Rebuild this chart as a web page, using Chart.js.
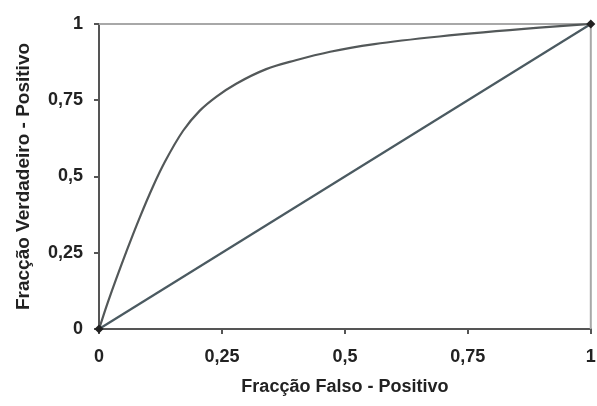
<!DOCTYPE html>
<html>
<head>
<meta charset="utf-8">
<script src="https://cdn.jsdelivr.net/npm/chart.js@4"></script>
<style>
html,body{margin:0;padding:0;background:#fff;}
#wrap{width:597px;height:406px;}
</style>
</head>
<body>
<div id="wrap"><canvas id="c" width="597" height="406"></canvas></div>
<script>
// ROC curve (Fracção Falso-Positivo vs Fracção Verdadeiro-Positivo)
const rocFpr = [0, 0.019, 0.056, 0.083, 0.110, 0.134, 0.171, 0.205, 0.239, 0.279, 0.340, 0.400, 0.470, 0.560, 0.692, 0.895, 1];
const rocTpr = [0, 0.092, 0.255, 0.366, 0.468, 0.548, 0.650, 0.716, 0.762, 0.804, 0.852, 0.881, 0.909, 0.934, 0.959, 0.988, 1];
const diagX = [0, 1];
const diagY = [0, 1];
const tickValues = [0, 0.25, 0.5, 0.75, 1];
const tickLabels = ['0', '0,25', '0,5', '0,75', '1'];
const xTitle = 'Fracção Falso - Positivo';
const yTitle = 'Fracção Verdadeiro - Positivo';

const fontFam = '"Liberation Sans", Arial, sans-serif';
const labelOf = v => { const i = tickValues.findIndex(t => Math.abs(t - v) < 1e-9); return i >= 0 ? tickLabels[i] : ''; };

const frame = {
  id: 'frame',
  beforeDatasetsDraw(chart) {
    const a = chart.chartArea, ctx = chart.ctx;
    ctx.save();
    ctx.strokeStyle = '#a8a8a8';
    ctx.lineWidth = 2;
    ctx.beginPath();
    ctx.moveTo(a.left, a.top);
    ctx.lineTo(a.right, a.top);
    ctx.lineTo(a.right, a.bottom);
    ctx.stroke();
    ctx.restore();
  }
};

const endRadius = ctx => (ctx.dataIndex === 0 || ctx.dataIndex === ctx.dataset.data.length - 1) ? 3 : 0;

new Chart(document.getElementById('c'), {
  type: 'scatter',
  data: {
    datasets: [
      {
        data: rocFpr.map((x, i) => ({x, y: rocTpr[i]})),
        showLine: true,
        borderColor: '#535859',
        borderWidth: 2.2,
        cubicInterpolationMode: 'monotone',
        pointRadius: endRadius,
        pointStyle: 'rectRot',
        pointBackgroundColor: '#222',
        pointBorderColor: '#222',
        clip: false
      },
      {
        data: diagX.map((x, i) => ({x, y: diagY[i]})),
        showLine: true,
        borderColor: '#4b5a61',
        borderWidth: 2.2,
        pointRadius: 0,
        clip: false
      }
    ]
  },
  options: {
    responsive: false,
    animation: false,
    devicePixelRatio: 1,
    layout: {padding: {top: 24, right: 5, left: 0, bottom: 0}},
    plugins: {legend: {display: false}, tooltip: {enabled: false}},
    scales: {
      x: {
        type: 'linear', min: 0, max: 1,
        afterBuildTicks: s => { s.ticks = tickValues.map(v => ({value: v})); },
        afterFit: s => { s.height = 77; s.paddingRight = 0; s.paddingLeft = 0; },
        ticks: {callback: v => labelOf(v), color: '#222', padding: 12, maxRotation: 0,
                font: {family: fontFam, size: 18, weight: 'bold'}},
        grid: {drawOnChartArea: false, drawTicks: true, tickLength: 5, color: '#555', lineWidth: 2},
        border: {color: '#555', width: 2},
        title: {display: true, text: xTitle, color: '#222', padding: {top: 0, bottom: 8},
                font: {family: fontFam, size: 18, weight: 'bold'}}
      },
      y: {
        type: 'linear', min: 0, max: 1,
        afterBuildTicks: s => { s.ticks = tickValues.map(v => ({value: v})); },
        afterFit: s => { s.width = 99; s.paddingTop = 0; s.paddingBottom = 0; },
        ticks: {callback: v => labelOf(v), color: '#222', padding: 11,
                font: {family: fontFam, size: 18, weight: 'bold'}},
        grid: {drawOnChartArea: false, drawTicks: true, tickLength: 5, color: '#555', lineWidth: 2},
        border: {color: '#555', width: 2},
        title: {display: true, text: yTitle, color: '#222', padding: {top: 12, bottom: 0},
                font: {family: fontFam, size: 19, weight: 'bold'}}
      }
    }
  },
  plugins: [frame]
});
</script>
</body>
</html>
